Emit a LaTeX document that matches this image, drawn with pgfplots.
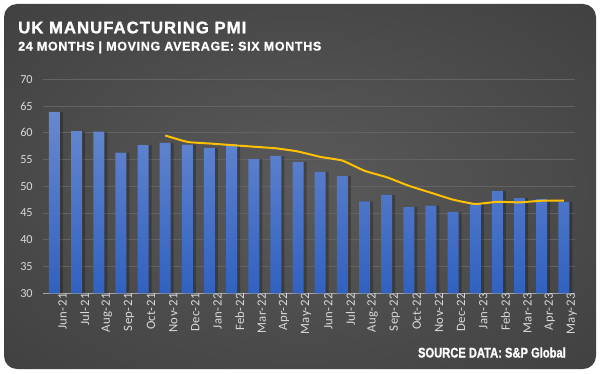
\documentclass[border=0pt]{standalone}
\usepackage{pgfplots}
\pgfplotsset{compat=1.18}
\usepackage{fontspec}
\setmainfont{Carlito}
\newfontfamily\titlefont{Liberation Sans}[LetterSpace=6,FakeBold=1.2]
\newfontfamily\subfont{Liberation Sans}[LetterSpace=5,FakeBold=0.8]
\newfontfamily\srcfont{Liberation Sans}[FakeStretch=0.8,FakeBold=1.2]
\newfontfamily\tickfam{Carlito}
\newfontfamily\xtickfam{Carlito}[LetterSpace=3]
\newcommand\tickfont{\tickfam\fontsize{12.3}{14}\selectfont}
\newcommand\tl[1]{{\xtickfam\fontsize{12.8}{14}\selectfont #1}}
\definecolor{bgc}{HTML}{5A5A5A}
\definecolor{bgm}{HTML}{363636}
\definecolor{bgo}{HTML}{2B2B2B}
\definecolor{bartop}{HTML}{6789D0}
\definecolor{barbot}{HTML}{3161C0}
\definecolor{gold}{HTML}{FFC000}
\definecolor{gridc}{HTML}{636363}
\definecolor{tickc}{HTML}{D9D9D9}
\pgfdeclareradialshading{panel}{\pgfpoint{0bp}{0bp}}{color(0bp)=(bgc); color(50bp)=(bgm); color(71bp)=(bgo)}
\pgfplotstableread{
x v
0 63.9
1 60.3
2 60.2
3 56.3
4 57.7
5 58.1
6 57.8
7 57.2
8 57.9
9 55.1
10 55.7
11 54.5
12 52.7
13 51.9
14 47.2
15 48.4
16 46.1
17 46.4
18 45.2
19 46.8
20 49.1
21 47.8
22 47.6
23 47.1
}\pmi
\pgfplotstableread{
x v
5 59.5
6 58.3
7 58.0
8 57.7
9 57.4
10 57.1
11 56.5
12 55.5
13 54.8
14 52.9
15 51.7
16 50.1
17 48.8
18 47.5
19 46.7
20 47.1
21 47.0
22 47.3
23 47.3
}\mavg
\begin{document}
\begin{tikzpicture}[x=1bp,y=1bp]
\fill[white] (0,0) rectangle (601,373);
\shade[shading=panel, rounded corners=13bp] (4,4) rectangle (596,369);
\node[anchor=base west, inner sep=0pt, text=white] at (18,339.7) {\titlefont\bfseries\fontsize{16.8}{20}\selectfont UK MANUFACTURING PMI};
\node[anchor=base west, inner sep=0pt, text=white] at (18,322.5) {\subfont\bfseries\fontsize{12.6}{15}\selectfont 24 MONTHS | MOVING AVERAGE: SIX MONTHS};
\node[anchor=base east, inner sep=0pt, text=white] at (566,15.5) {\srcfont\bfseries\fontsize{14}{16}\selectfont SOURCE DATA: S\&P Global};
\begin{axis}[
  at={(43.4bp,79.7bp)}, anchor=south west,
  scale only axis, width=531.5bp, height=214bp,
  xmin=-0.5, xmax=23.5, ymin=30, ymax=70,
  ytick={30,35,...,70},
  yticklabel={{\tickfont\pgfmathprintnumber[assume math mode=true]{\tick}}},
  xtick={0,...,23},
  xticklabels={\tl{Jun-21},\tl{Jul-21},\tl{Aug-21},\tl{Sep-21},\tl{Oct-21},\tl{Nov-21},\tl{Dec-21},\tl{Jan-22},\tl{Feb-22},\tl{Mar-22},\tl{Apr-22},\tl{May-22},\tl{Jun-22},\tl{Jul-22},\tl{Aug-22},\tl{Sep-22},\tl{Oct-22},\tl{Nov-22},\tl{Dec-22},\tl{Jan-23},\tl{Feb-23},\tl{Mar-23},\tl{Apr-23},\tl{May-23}},
  axis lines*=left,
  y axis line style={draw=none},
  x axis line style={draw=gray!70, line width=0.9bp},
  major tick length=0pt,
  ymajorgrids, grid style={gridc, line width=0.8bp},
  tick label style={font=\tickfont},
  yticklabel style={text=tickc, inner sep=0pt, anchor=east, xshift=-10.5bp},
  xticklabel style={text=tickc, rotate=90, anchor=east, inner sep=0pt, yshift=-8bp},
  clip=false,
]
\addplot[ybar, bar width=11bp, bar shift=3bp, draw=none, fill=black, fill opacity=0.25] table[x=x,y=v] {\pmi};
\addplot[ybar, bar width=11bp, bar shift=0bp, draw=none, top color=bartop, bottom color=barbot] table[x=x,y=v] {\pmi};
\addplot[gold, line width=2bp, smooth, tension=0.3, no marks] table[x=x,y=v] {\mavg};
\end{axis}
\end{tikzpicture}
\end{document}
